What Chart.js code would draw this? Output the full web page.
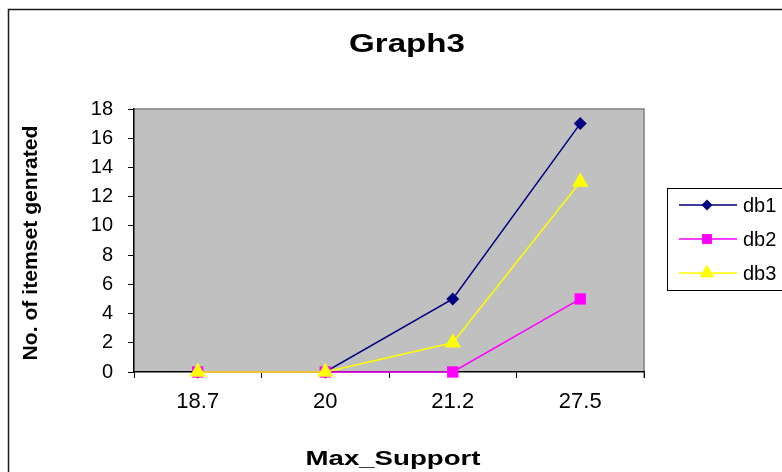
<!DOCTYPE html>
<html>
<head>
<meta charset="utf-8">
<script src="https://cdn.jsdelivr.net/npm/chart.js@4"></script>
<style>
  html, body { margin: 0; padding: 0; background: #ffffff; overflow: hidden; }
  canvas { display: block; }
</style>
</head>
<body>
<canvas id="chart" width="782" height="472"></canvas>
<script>
// Categories on the x axis (Max_Support values)
const categories = ['18.7', '20', '21.2', '27.5'];

// Number of itemsets generated per database
const db1 = [0, 0, 5, 17];
const db2 = [0, 0, 0, 5];
const db3 = [0, 0, 2, 13];

const seriesNames = ['db1', 'db2', 'db3'];

// Y axis range and tick step
const yMin = 0;
const yMax = 18;
const yStep = 2;

const chartTitle = 'Graph3';
const xAxisTitle = 'Max_Support';
const yAxisTitle = 'No. of itemset genrated';

const FONT = "'Liberation Sans', Arial, Helvetica, sans-serif";

const seriesStyles = [
  { color: '#000080', pointStyle: 'rectRot', radius: 6.5 },
  { color: '#FF00FF', pointStyle: 'rect', radius: 8 },
  { color: '#FFFF00', pointStyle: 'triangle', radius: 9.5 }
];

// Draws a text string scaled horizontally to a given width
function drawFitted(ctx, text, font, cx, cy, width, angle) {
  ctx.save();
  ctx.font = font;
  ctx.fillStyle = '#000000';
  ctx.textAlign = 'center';
  ctx.textBaseline = 'alphabetic';
  const natural = ctx.measureText(text).width;
  ctx.translate(cx, cy);
  if (angle) ctx.rotate(angle);
  ctx.scale(width / natural, 1);
  ctx.fillText(text, 0, 0);
  ctx.restore();
}

// Frame, plot background, titles and legend
const decorations = {
  id: 'decorations',
  beforeDraw(chart) {
    const { ctx, chartArea: a } = chart;
    ctx.save();
    ctx.fillStyle = '#ffffff';
    ctx.fillRect(0, 0, chart.width, chart.height);
    // outer frame
    ctx.strokeStyle = '#1a1a1a';
    ctx.lineWidth = 1.5;
    ctx.strokeRect(8.5, 9.5, chart.width + 20, chart.height + 20);
    // plot area
    ctx.fillStyle = '#C0C0C0';
    ctx.fillRect(a.left, a.top, a.right - a.left, a.bottom - a.top);
    ctx.strokeStyle = '#808080';
    ctx.lineWidth = 1.5;
    ctx.beginPath();
    ctx.moveTo(a.left, a.top);
    ctx.lineTo(a.right, a.top);
    ctx.lineTo(a.right, a.bottom + 6);
    ctx.stroke();
    ctx.restore();
  },
  afterDraw(chart) {
    const { ctx } = chart;
    drawFitted(ctx, chartTitle, 'bold 26px ' + FONT, 407, 52, 116, 0);
    drawFitted(ctx, xAxisTitle, 'bold 20px ' + FONT, 393, 465, 175, 0);
    drawFitted(ctx, yAxisTitle, 'bold 21px ' + FONT, 37, 243, 235, -Math.PI / 2);

    // legend box
    ctx.save();
    ctx.fillStyle = '#ffffff';
    ctx.fillRect(667, 188, 130, 103);
    ctx.strokeStyle = '#000000';
    ctx.lineWidth = 1;
    ctx.strokeRect(667.5, 188.5, 130, 102);
    const rows = [205, 239, 273];
    seriesNames.forEach((name, i) => {
      const s = seriesStyles[i];
      const y = rows[i];
      ctx.strokeStyle = s.color;
      ctx.lineWidth = 1.5;
      ctx.beginPath();
      ctx.moveTo(679, y);
      ctx.lineTo(737, y);
      ctx.stroke();
      ctx.fillStyle = s.color;
      Chart.helpers.drawPoint(ctx, {
        pointStyle: s.pointStyle, radius: s.radius - 1, rotation: 0, borderWidth: 0
      }, 707, y);
      ctx.fillStyle = '#000000';
      ctx.font = '20px ' + FONT;
      ctx.textAlign = 'left';
      ctx.textBaseline = 'middle';
      ctx.fillText(name, 743, y + 1);
    });
    ctx.restore();
  }
};

const seriesData = [db1, db2, db3];

new Chart(document.getElementById('chart'), {
  type: 'line',
  data: {
    labels: categories,
    datasets: seriesData.map((values, i) => ({
      label: seriesNames[i],
      data: values,
      borderColor: seriesStyles[i].color,
      backgroundColor: seriesStyles[i].color,
      pointBackgroundColor: seriesStyles[i].color,
      pointBorderColor: seriesStyles[i].color,
      pointBorderWidth: 0,
      pointStyle: seriesStyles[i].pointStyle,
      pointRadius: seriesStyles[i].radius,
      borderWidth: 1.5,
      tension: 0,
      fill: false,
      clip: false,
      order: 3 - i
    }))
  },
  options: {
    responsive: false,
    animation: false,
    events: [],
    layout: { padding: { left: 0, top: 109, right: 138, bottom: 0 } },
    plugins: {
      legend: { display: false },
      title: { display: false },
      tooltip: { enabled: false }
    },
    scales: {
      x: {
        type: 'category',
        offset: true,
        afterFit(scale) { scale.height = 100; },
        border: { display: true, color: '#000000', width: 1.5 },
        grid: {
          offset: true,
          drawOnChartArea: false,
          drawTicks: true,
          tickLength: 6,
          color: '#000000',
          lineWidth: 1
        },
        ticks: {
          color: '#000000',
          font: { family: FONT, size: 22 },
          padding: 11,
          maxRotation: 0,
          autoSkip: false
        }
      },
      y: {
        min: yMin,
        max: yMax,
        afterFit(scale) { scale.width = 134; },
        border: { display: true, color: '#000000', width: 1.5 },
        grid: {
          drawOnChartArea: false,
          drawTicks: true,
          tickLength: 6,
          color: '#000000',
          lineWidth: 1
        },
        ticks: {
          stepSize: yStep,
          color: '#000000',
          font: { family: FONT, size: 20 },
          padding: 15
        }
      }
    }
  },
  plugins: [decorations]
});
</script>
</body>
</html>
